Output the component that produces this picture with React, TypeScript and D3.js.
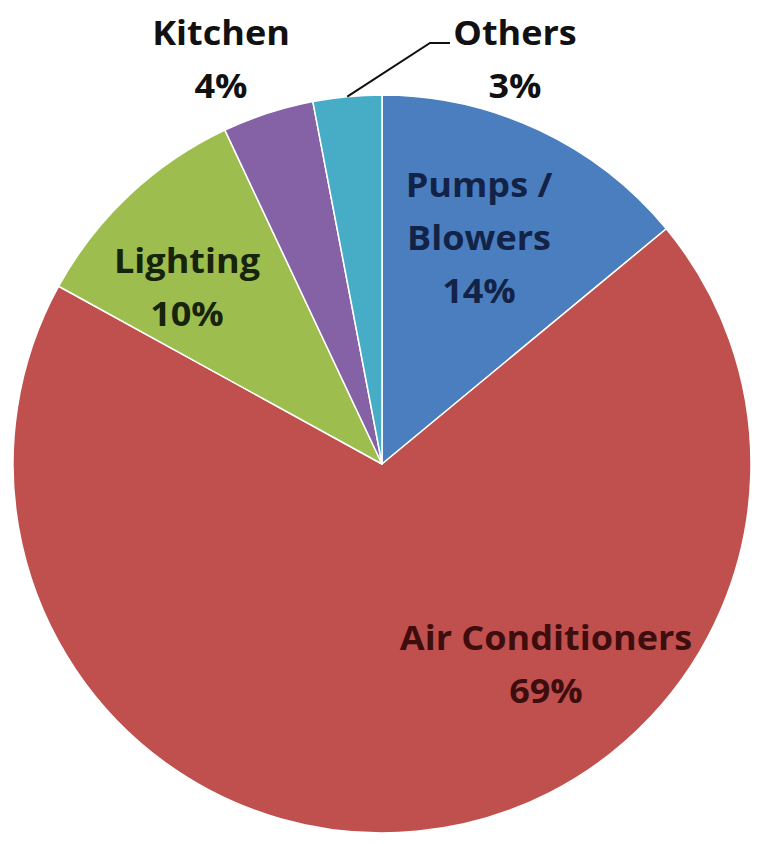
import React from "react";
import * as d3 from "d3";

// Energy use share by category
const categories = ["Pumps /\nBlowers", "Air Conditioners", "Lighting", "Kitchen", "Others"];
const shares = [14, 69, 10, 4, 3];
const sliceColors = ["#4A7EBF", "#C0504D", "#9DBE4F", "#8561A6", "#47ADC7"];
const labelColors = ["#132347", "#3E0D0D", "#17230A", "#111111", "#111111"];

const W = 760;
const H = 844;
const cx = 382;
const cy = 464;
const R = 369;

// label anchor points (center x, first baseline y) per slice
const labelPos: [number, number][] = [
  [479, 197],
  [546, 650],
  [187, 273],
  [221, 45],
  [515, 45],
];
const lineGap = 53;
const fontSize = 34;
const stretchX = 1.06;

export default function App() {
  const data = categories.map((c, i) => ({ name: c, value: shares[i], i }));
  const pie = d3.pie<typeof data[number]>().value((d) => d.value).sort(null);
  const arcs = pie(data);
  const arc = d3.arc<d3.PieArcDatum<typeof data[number]>>().innerRadius(0).outerRadius(R);

  // leader for the "Others" label: from slice edge midpoint to label
  const others = arcs[4];
  const mid = (others.startAngle + others.endAngle) / 2;
  const ex = cx + R * Math.sin(mid);
  const ey = cy - R * Math.cos(mid);
  const leader = d3.line()([
    [ex, ey],
    [430, 43],
    [450, 43],
  ]);

  return (
    <svg
      width={W}
      height={H}
      style={{ position: "absolute", left: 0, top: 0, background: "#fff" }}
      fontFamily="'Open Sans', sans-serif"
      fontWeight={700}
    >
      <g transform={`translate(${cx},${cy})`}>
        {arcs.map((a, i) => (
          <path key={i} d={arc(a) || ""} fill={sliceColors[i]} stroke="#fff" strokeWidth={1.5} strokeLinejoin="round" />
        ))}
      </g>
      <path d={leader || ""} fill="none" stroke="#111" strokeWidth={2} />
      {arcs.map((a, i) => {
        const [x, y] = labelPos[i];
        const lines = [...a.data.name.split("\n"), `${a.data.value}%`];
        return (
          <g key={i} transform={`translate(${x},0) scale(${stretchX},1)`}>
            <text x={0} y={y} textAnchor="middle" fontSize={fontSize} fill={labelColors[i]}>
              {lines.map((t, k) => (
                <tspan key={k} x={0} y={y + k * lineGap}>
                  {t}
                </tspan>
              ))}
            </text>
          </g>
        );
      })}
    </svg>
  );
}
